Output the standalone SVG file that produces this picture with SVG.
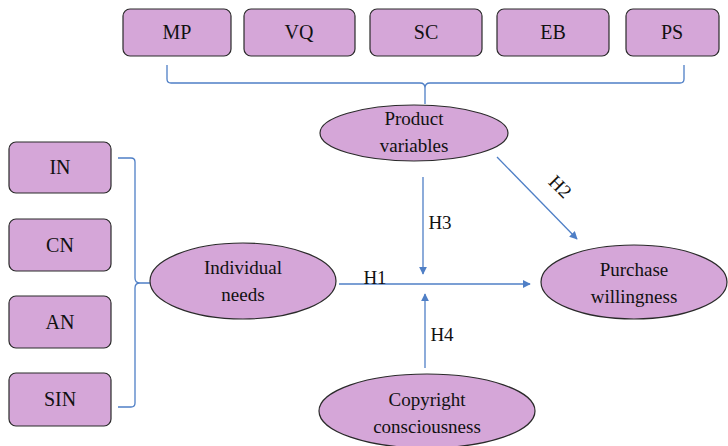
<svg xmlns="http://www.w3.org/2000/svg" width="728" height="446" viewBox="0 0 728 446">
<style>
.n{fill:#d5a6d8;stroke:#2a2a2a;stroke-width:1.2}
.c{fill:none;stroke:#4f7fc6;stroke-width:1.3}
text{fill:#111;text-anchor:middle;font-family:"Times New Roman","Liberation Serif","DejaVu Serif",serif}
</style>
<defs>
<marker id="ah" viewBox="0 0 10 10" refX="9" refY="5" markerWidth="8" markerHeight="8" markerUnits="userSpaceOnUse" orient="auto">
<path d="M0,0 L10,5 L0,10 z" fill="#4f7fc6"/>
</marker>
</defs>
<rect width="728" height="446" fill="#fff"/>
<g font-size="19">
<g id="connectors">
<path class="c" d="M167,65 V79 Q167,83 171,83 H420 Q425,83 425,88 V104 M425,88 Q425,83 430,83 H680 Q684,83 684,79 V65"/>
<path class="c" d="M118,158 H131 Q135,158 135,162 V278 Q135,283 140,283 H150 M140,283 Q135,283 135,288 V403 Q135,407 131,407 H118"/>
<line class="c" x1="339" y1="284" x2="530" y2="284" marker-end="url(#ah)"/>
<line class="c" x1="423" y1="177" x2="423" y2="274" marker-end="url(#ah)"/>
<line class="c" x1="425" y1="368" x2="425" y2="294" marker-end="url(#ah)"/>
<line class="c" x1="497" y1="157" x2="577" y2="239" marker-end="url(#ah)"/>
<text x="375" y="284">H1</text>
<text x="440" y="229">H3</text>
<text x="442" y="341">H4</text>
<text transform="translate(560,187) rotate(45)" y="6">H2</text>
</g>
<g font-size="20">
<g id="MP"><rect class="n" x="123" y="9" width="108" height="47" rx="7"/><text x="177" y="39">MP</text></g>
<g id="VQ"><rect class="n" x="244" y="9" width="111" height="47" rx="7"/><text x="299" y="39">VQ</text></g>
<g id="SC"><rect class="n" x="370" y="9" width="112" height="47" rx="7"/><text x="426" y="39">SC</text></g>
<g id="EB"><rect class="n" x="497" y="9" width="112" height="47" rx="7"/><text x="553" y="39">EB</text></g>
<g id="PS"><rect class="n" x="626" y="9" width="93" height="47" rx="7"/><text x="672" y="39">PS</text></g>
<g id="IN"><rect class="n" x="9" y="142" width="102" height="51" rx="7"/><text x="60" y="174">IN</text></g>
<g id="CN"><rect class="n" x="9" y="219" width="102" height="52" rx="7"/><text x="60" y="252">CN</text></g>
<g id="AN"><rect class="n" x="9" y="296" width="102" height="52" rx="7"/><text x="60" y="329">AN</text></g>
<g id="SIN"><rect class="n" x="9" y="373" width="102" height="53" rx="7"/><text x="60" y="406">SIN</text></g>
</g>
<g id="product"><ellipse class="n" cx="414" cy="133" rx="94" ry="28"/><text x="414" y="125">Product</text><text x="414" y="152">variables</text></g>
<g id="individual"><ellipse class="n" cx="243" cy="281" rx="93" ry="38"/><text x="243" y="274">Individual</text><text x="243" y="301">needs</text></g>
<g id="purchase"><ellipse class="n" cx="634" cy="282" rx="93" ry="37"/><text x="634" y="276">Purchase</text><text x="634" y="303">willingness</text></g>
<g id="copyright"><ellipse class="n" cx="427" cy="411" rx="108" ry="37"/><text x="427" y="406">Copyright</text><text x="427" y="433">consciousness</text></g>
</g>
</svg>
